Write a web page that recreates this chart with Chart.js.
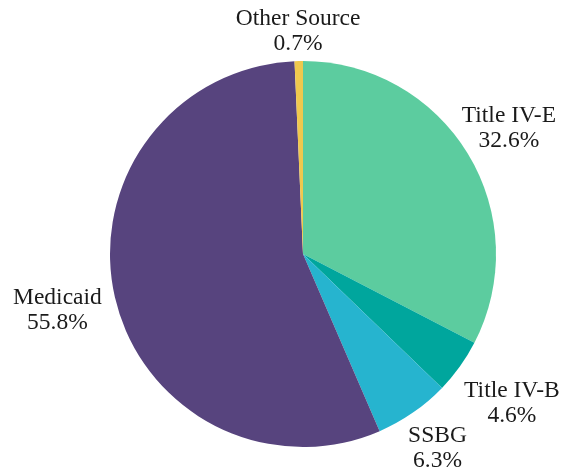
<!DOCTYPE html>
<html>
<head>
<meta charset="utf-8">
<script src="https://cdn.jsdelivr.net/npm/chart.js@4"></script>
<style>
  html, body { margin: 0; padding: 0; background: #fff; }
  #wrap { width: 571px; height: 475px; position: relative; }
</style>
</head>
<body>
<div id="wrap"><canvas id="pieChart"></canvas></div>
<script>
// ─── DATA ─────────────────────────────────────────────────────────────────────

const categories = ['Title IV-E', 'Title IV-B', 'SSBG', 'Medicaid', 'Other Source'];
const shares     = [32.6, 4.6, 6.3, 55.8, 0.7];
const colors     = ['#5CCC9F', '#00A69D', '#26B4CF', '#57447E', '#F0C84E'];

// ─── OUTSIDE LABELS ───────────────────────────────────────────────────────────

const FONT   = '23.5px "Liberation Serif", "Times New Roman", serif';
const LINE_H = 25;
// how far past the rim each label block's centre sits (px), same order as categories
const LABEL_OFFSET = [48, 64, 43, 59, 30];

const outsideLabels = {
  id: 'outsideLabels',
  afterDatasetsDraw(chart) {
    const { ctx } = chart;
    const meta = chart.getDatasetMeta(0);
    ctx.save();
    ctx.font = FONT;
    ctx.fillStyle = '#1a1a1a';
    ctx.textAlign = 'center';
    ctx.textBaseline = 'middle';

    meta.data.forEach((arc, i) => {
      const { x, y, startAngle, endAngle, outerRadius } = arc.getProps(
        ['x', 'y', 'startAngle', 'endAngle', 'outerRadius'], true);
      const mid = (startAngle + endAngle) / 2;
      const dist = outerRadius + LABEL_OFFSET[i];
      const cx = x + Math.cos(mid) * dist;
      const cy = y + Math.sin(mid) * dist;
      const lines = [categories[i], shares[i].toFixed(1) + '%'];
      const h = LINE_H * lines.length;

      lines.forEach((l, j) => {
        ctx.fillText(l, cx, cy - h / 2 + LINE_H * (j + 0.5));
      });
    });
    ctx.restore();
  }
};

// ─── CHART ────────────────────────────────────────────────────────────────────

new Chart(document.getElementById('pieChart'), {
  type: 'pie',
  data: {
    labels: categories,
    datasets: [{
      data: shares,
      backgroundColor: colors,
      borderWidth: 0,
    }]
  },
  options: {
    responsive: true,
    maintainAspectRatio: false,
    animation: false,
    layout: { padding: { top: 61, bottom: 28, left: 60, right: 25 } },
    plugins: {
      legend: { display: false },
      tooltip: { enabled: false },
    }
  },
  plugins: [outsideLabels]
});
</script>
</body>
</html>
